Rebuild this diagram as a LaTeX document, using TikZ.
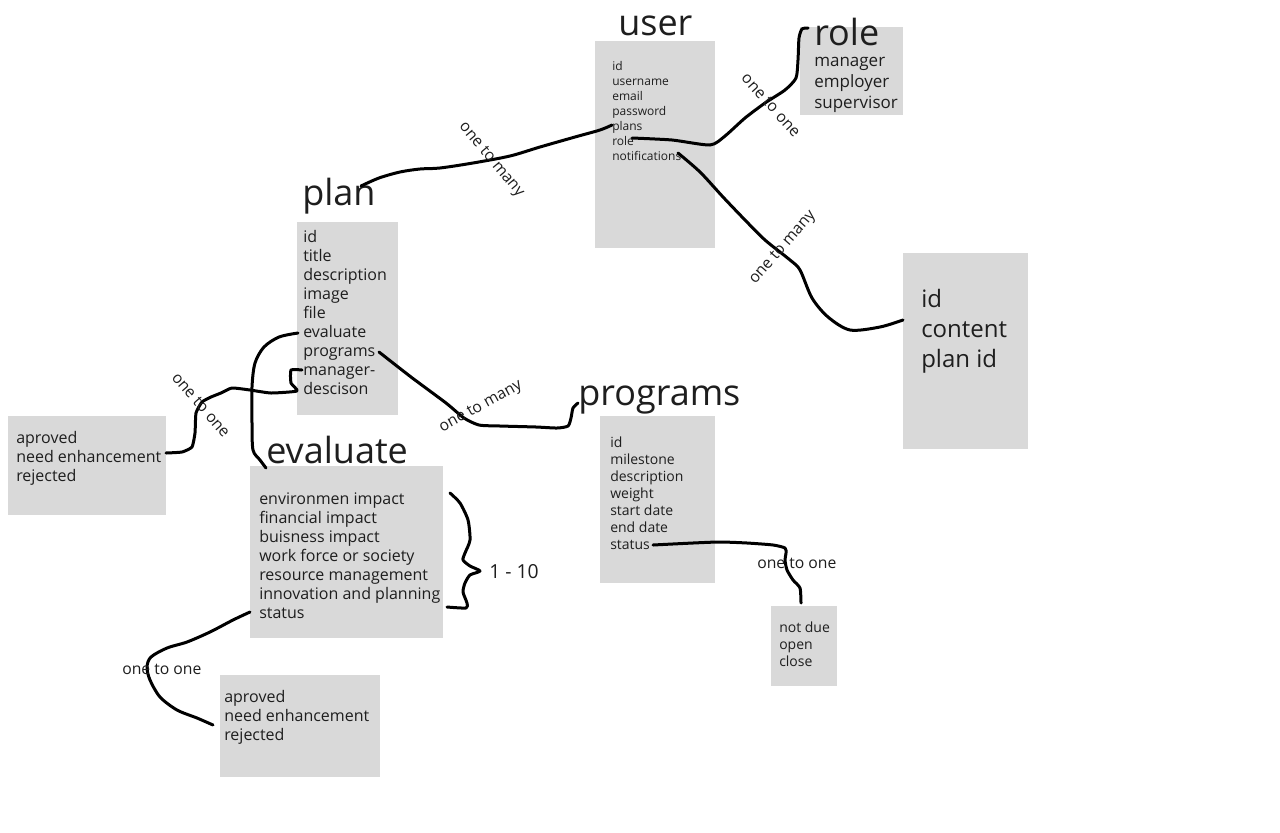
\documentclass[tikz,border=0pt]{standalone}
\usepackage{fontspec}
\setmainfont{Open Sans}
\usetikzlibrary{fit}
\definecolor{boxgray}{HTML}{D9D9D9}
\definecolor{ink}{HTML}{1E1E1E}
\tikzset{
  box/.style={fill=boxgray, draw=none, inner sep=0pt},
  fields/.style={anchor=base west, inner sep=0pt, align=left, text=ink},
  ttl/.style={anchor=base west, inner sep=0pt, text=ink, font=\fontsize{27}{32}\selectfont},
  link/.style={line width=2.25pt, line cap=round, line join=round},
  lbl/.style={inner sep=0pt, text=ink, font=\fontsize{11.8}{14}\selectfont},
  fs12/.style={font=\fontsize{9}{11.25}\selectfont},
  fs14/.style={font=\fontsize{10.5}{12.75}\selectfont},
  fs16/.style={font=\fontsize{12}{14.25}\selectfont},
  fs17/.style={font=\fontsize{12.75}{15.75}\selectfont},
  fs24/.style={font=\fontsize{18}{22.5}\selectfont},
}
\begin{document}
\begin{tikzpicture}[x=0.75pt,y=-0.75pt]
\fill[white] (0,0) rectangle (1280,832);
\useasboundingbox (0,0) rectangle (1280,832);

% boxes
\node[box, fit={(595,41) (715,248)}] (userbox) {};
\node[box, fit={(800,27) (903,115)}] (rolebox) {};
\node[box, fit={(297,222) (398,415)}] (planbox) {};
\node[box, fit={(8,416) (166,515)}] (decbox) {};
\node[box, fit={(250,466) (443,638)}] (evalbox) {};
\node[box, fit={(600,416) (715,583)}] (progbox) {};
\node[box, fit={(903,253) (1028,449)}] (notebox) {};
\node[box, fit={(771,606) (837,686)}] (statbox) {};
\node[box, fit={(220,675) (380,777)}] (evstatbox) {};

% titles
\node[ttl] (usert) at (618,35) {user};
\node[ttl] (rolet) at (814,45) {role};
\node[ttl] (plant) at (302,205) {plan};
\node[ttl] (evalt) at (266,463) {evaluate};
\node[ttl] (progt) at (578,405) {programs};

% field lists (anchored at the baseline of the last line)
\node[fields, fs12] (userf) at (612,160) {id\\username\\email\\password\\plans\\role\\notifications};
\node[fields, fs17] (rolef) at (814,108) {manager\\employer\\supervisor};
\node[fields, fs16] (planf) at (303,394) {id\\title\\description\\image\\file\\evaluate\\programs\\manager-\\descison};
\node[fields, fs16] (decf) at (16,481) {aproved\\need enhancement\\rejected};
\node[fields, fs16] (evalf) at (259,618) {environmen impact\\financial impact\\buisness impact\\work force or society\\resource management\\innovation and planning\\status};
\node[fields, fs14] (progf) at (610,549) {id\\milestone\\description\\weight\\start date\\end date\\status};
\node[fields, fs24] (notef) at (921,367) {id\\content\\plan id};
\node[fields, fs14] (statf) at (779,666) {not due\\open\\close};
\node[fields, fs16] (evstatf) at (224,740) {aproved\\need enhancement\\rejected};

% endpoints
\coordinate (p1a) at (361,186);
\coordinate (p1b) at (612,125);
\coordinate (p2a) at (632,138);
\coordinate (p2b) at (808,28);
\coordinate (p3a) at (678,153);
\coordinate (p3b) at (903,320);
\coordinate (p4a) at (379,352);
\coordinate (p4b) at (578,403);
\coordinate (p5a) at (298,333);
\coordinate (p5b) at (266,468);
\coordinate (p6a) at (302,370);
\coordinate (p6b) at (166,453);
\coordinate (p7a) at (450,493);
\coordinate (p7b) at (447,607);
\coordinate (p8a) at (250,612);
\coordinate (p8b) at (213,725);
\coordinate (p9a) at (653,545);
\coordinate (p9b) at (801,603);

% connectors
\draw[link] plot[smooth, tension=0.5] coordinates {(p1a) (379,178) (400,172) (420,169) (440,168) (473,163) (510,156) (540,147) (575,137) (600,130) (p1b)};
\draw[link] plot[smooth, tension=0.4] coordinates {(p2a) (672,140) (710,145) (725,136) (745,118) (765,103) (785,90) (796,78) (798,60) (799,38) (802,29) (p2b)};
\draw[link] plot[smooth, tension=0.5] coordinates {(p3a) (700,172) (723,197) (745,220) (765,240) (790,260) (800,270) (812,298) (828,317) (850,330) (880,327) (p3b)};
\draw[link] plot[smooth, tension=0.4] coordinates {(p4a) (411,377) (446,403) (464,418) (479,425) (500,426) (536,427) (557,428) (568,426) (571,418) (573,408) (p4b)};
\draw[link] plot[smooth, tension=0.5] coordinates {(p5a) (279,337) (264,347) (255,363) (252,387) (252,423) (253,450) (260,460) (p5b)};
\draw[link] plot[smooth, tension=0.3] coordinates {(p6a) (291,370) (291,383) (297,391) (271,393) (250,390) (232,388) (221,393) (211,397) (202,402) (196,413) (195,433) (192,447) (182,452) (p6b)};
\draw[link] plot[smooth, tension=0.4] coordinates {(p7a) (460,503) (468,520) (470,540) (465,553) (463,560) (470,566) (480,571) (470,575) (465,583) (463,592) (467,603) (466,608) (p7b)};
\draw[link] plot[smooth, tension=0.5] coordinates {(p8a) (233,620) (210,632) (187,642) (167,648) (151,657) (147,667) (150,680) (160,697) (177,710) (197,718) (p8b)};
\draw[link] plot[smooth, tension=0.4] coordinates {(p9a) (693,543) (720,542) (747,543) (773,545) (785,548) (786,553) (785,560) (787,570) (793,580) (800,588) (p9b)};

% labels
\node[lbl, rotate=-50] (l1) at (491,160) {one to many};
\node[lbl, rotate=-48] (l2) at (771,105) {one to one};
\node[lbl, rotate=49] (l3) at (783,248) {one to many};
\node[lbl, rotate=29] (l4) at (481,407) {one to many};
\node[lbl, rotate=-49] (l6) at (201,405) {one to one};
\node[lbl, anchor=base west] (l8) at (122,674) {one to one};
\node[lbl, anchor=base west] (l9) at (757,568) {one to one};
\node[anchor=base west, inner sep=0pt, text=ink, font=\fontsize{14.5}{17}\selectfont] (l7) at (489,578) {1 - 10};
\end{tikzpicture}
\end{document}
